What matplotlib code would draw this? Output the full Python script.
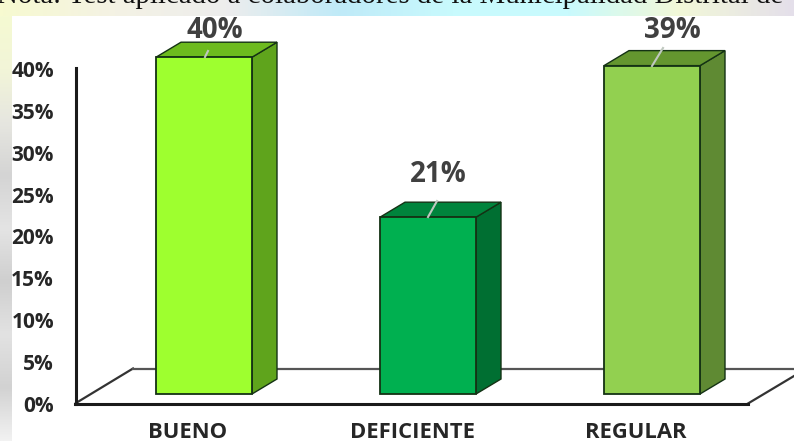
import numpy as np
import matplotlib
matplotlib.use("Agg")
import matplotlib.pyplot as plt
from matplotlib.patches import Polygon, Rectangle
from matplotlib.colors import LinearSegmentedColormap

categories = ["BUENO", "DEFICIENTE", "REGULAR"]
values = [40, 21, 39]
tick_values = [0, 5, 10, 15, 20, 25, 30, 35, 40]
front_colors = ["#9EFF2F", "#00B050", "#92D050"]
top_colors = ["#6DBB1E", "#00843C", "#64962F"]
side_colors = ["#5FA41C", "#006F32", "#5F8A33"]
note = "Nota: Test aplicado a colaboradores de la Municipalidad Distrital de"

W, H = 794, 441
X0, DX = 204.0, 224.0   # pixel centre of first bar, spacing
Y0, DY = 394.0, 8.42    # pixel of bar base, pixels per percent

fig = plt.figure(figsize=(W / 100, H / 100), dpi=100)
ax = fig.add_axes([0, 0, 1, 1])
ax.set_xlim(-X0 / DX, (W - X0) / DX)
ax.set_ylim((Y0 - H) / DY, Y0 / DY)
ax.axis("off")

def ux(p):
    return p / DX
def uy(p):
    return p / DY
def px(x, y):
    return ((x - X0) / DX, (Y0 - y) / DY)

# background
bg_cmap = LinearSegmentedColormap.from_list(
    "bg", ["#F7FAD0", "#F4F2E4", "#EDEDED", "#BFEAF8", "#C8FAFD", "#C8FAFD", "#F2F8D8", "#E4DFEA"])
grad = np.linspace(0, 1, 256).reshape(1, -1)
ax.imshow(grad, cmap=bg_cmap, aspect="auto", zorder=0,
          extent=[*ax.get_xlim(), px(0, 16)[1], px(0, -1)[1]])
side = LinearSegmentedColormap.from_list(
    "side", ["#F5FAD2", "#F2F5D8", "#E6E6E0", "#D4D4D4", "#E4E4E4", "#CFCFCF", "#E2E2E2", "#D2D2D2", "#F2F2F2"])
ax.imshow(np.linspace(0, 1, 256).reshape(-1, 1), cmap=side, aspect="auto", zorder=0,
          extent=[px(0, 0)[0], px(12, 0)[0], px(0, 441)[1], px(0, 16)[1]])
ax.set_xlim(-X0 / DX, (W - X0) / DX)
ax.set_ylim((Y0 - H) / DY, Y0 / DY)
ax.add_patch(Rectangle(px(12, 441), ux(W - 12), uy(425), fc="white", ec="none", zorder=1))
ax.text(*px(-3, 3), note, family="Liberation Serif", fontsize=20.8, color="#111111",
        ha="left", va="baseline", zorder=2, clip_on=True)

# floor
floor_c = "#1A1A1A"
ax.plot(*zip(px(76, 403), px(133, 368.5)), color="#333333", lw=1.6, zorder=2)
ax.plot(*zip(px(133, 368.5), px(794, 368.5)), color="#555555", lw=1.6, zorder=2)
ax.plot(*zip(px(748, 403.5), px(794, 376)), color="#333333", lw=1.6, zorder=2)
ax.plot(*zip(px(75, 403.5), px(748, 403.5)), color=floor_c, lw=2.2, zorder=2)
ax.plot(*zip(px(75.5, 68), px(75.5, 403.5)), color=floor_c, lw=2.2, zorder=2)

# y tick labels (axis baseline sits 9 px under the bar base)
for t in tick_values:
    ax.text(*px(54, Y0 + 12.5 - t * 8.375), f"{t}%", family="Open Sans", weight="bold",
            fontsize=15, color="#262626", ha="right", va="center", zorder=3)

# bars
half = 48 / DX
dx3, dy3 = ux(25), uy(15)
edge = "#143214"
leaders = [(205, 57, 208, 51), (428, 217, 437, 201), (652, 66, 663, 48)]
label_pos = [(215, 30), (438, 174), (672, 31)]
for i, (cat, v) in enumerate(zip(categories, values)):
    l, r = i - half, i + half
    ax.add_patch(Polygon([(r, 0), (r + dx3, dy3), (r + dx3, v + dy3), (r, v)],
                         fc=side_colors[i], ec=edge, lw=1.0, zorder=4))
    ax.add_patch(Polygon([(l, v), (r, v), (r + dx3, v + dy3), (l + dx3, v + dy3)],
                         fc=top_colors[i], ec=edge, lw=1.0, zorder=4))
    ax.bar(i, v, width=2 * half, color=front_colors[i], edgecolor=edge, linewidth=1.3, zorder=5)
    ax.text(*px(*label_pos[i]), f"{v}%", family="Open Sans", weight="bold", fontsize=20,
            color="#404040", ha="center", va="center", zorder=6)
    x1, y1, x2, y2 = leaders[i]
    ax.plot(*zip(px(x1, y1), px(x2, y2)), color="#BFC8BF", lw=1.5, zorder=6)
    ax.text(*px(X0 - 16 + i * DX, 433), cat, family="Open Sans", weight="bold",
            fontsize=15.8, color="#262626", ha="center", va="center", zorder=6)

fig.savefig("out.png", dpi=100)
